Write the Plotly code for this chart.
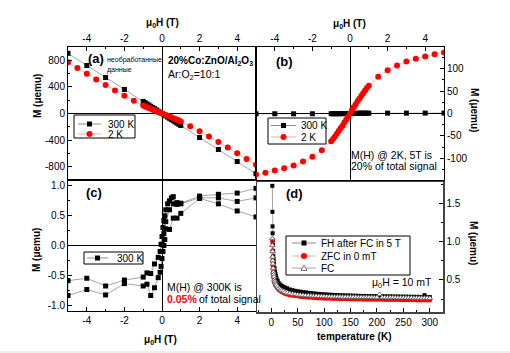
import plotly.graph_objects as go

W, H = 510, 353
FONT = "Arial, 'Liberation Sans', sans-serif"

# ---------------- data ----------------
# panel (a): raw M(H); panel (b): 300 K / paramagnetic part at 2 K
a_H_300K = [-5, -4, -3, -2, -1, -0.9, -0.8, -0.7, -0.6, -0.5, -0.4, -0.3, -0.2, -0.1, 0,
            0.1, 0.2, 0.3, 0.4, 0.5, 0.6, 0.7, 0.8, 0.9, 1, 2, 3, 4, 5]
a_M_300K = [905, 722, 541, 362, 181, 163, 145, 127, 109, 91, 72, 54, 36, 18, 0,
            -18, -36, -54, -72, -91, -109, -127, -145, -163, -181, -362, -541, -722, -905]
a_H_2K = [-5, -4.5, -4, -3.5, -3, -2.5, -2, -1.5, -1, -0.9, -0.8, -0.7, -0.6, -0.5, -0.4,
          -0.3, -0.2, -0.1, 0, 0.1, 0.2, 0.3, 0.4, 0.5, 0.6, 0.7, 0.8, 0.9, 1, 1.5,
          2, 2.5, 3, 3.5, 4, 4.5, 5]
a_M_2K = [769, 683, 597, 512, 427, 346, 266, 190, 119, 106, 94, 82, 70, 58, 45,
          34, 22, 11, 0, -11, -22, -34, -45, -58, -70, -82, -94, -106, -119, -190,
          -266, -346, -427, -512, -597, -683, -769]
b_M_300K = [-0.6, -0.6, -0.7, -0.6, -0.5, -0.5, -0.5, -0.5, -0.5, -0.4, -0.3, -0.3, -0.2, -0.1, 0.1,
            0.2, 0.3, 0.4, 0.5, 0.6, 0.7, 0.7, 0.7, 0.7, 0.7, 0.8, 0.8, 0.9, 0.9]
b_M_2K = [-136, -132, -127, -122, -116, -107, -96, -82, -62, -57, -51, -45, -39, -33, -27,
          -20, -14, -7, 0, 7, 14, 20, 27, 33, 39, 45, 51, 57, 62, 82,
          96, 107, 116, 122, 127, 132, 136]

# panel (c): 300 K loop (initial, descending, ascending)
c_H = [0, 0.1, 0.2, 0.4, 0.6, 0.8, 1, 2, 3, 4, 5,
       5, 4, 3, 2, 1, 0.8, 0.6, 0.5, 0.4, 0.3, 0.2, 0.15, 0.1, 0.05, 0, -0.05, -0.1, -0.2,
       -0.4, -0.6, -0.8, -1, -2, -3, -4, -5,
       -5, -4, -3, -2, -1, -0.8, -0.6, -0.4, -0.2, -0.1, -0.05, 0, 0.05, 0.1, 0.15, 0.2,
       0.4, 0.6, 0.8, 1, 2, 3, 4, 5]
c_M = [0.02, 0.2, 0.4, 0.6, 0.7, 0.72, 0.7, 0.8, 0.8, 0.74, 0.8,
       0.96, 0.88, 0.86, 0.83, 0.71, 0.69, 0.82, 0.8, 0.75, 0.7, 0.6, 0.5, 0.42, 0.3, 0.15, 0.02, -0.1, -0.2,
       -0.31, -0.47, -0.46, -0.53, -0.58, -0.68, -0.55, -0.59,
       -0.84, -0.74, -0.83, -0.64, -0.68, -0.65, -0.84, -0.71, -0.54, -0.45, -0.35, -0.22, -0.1, 0.0, 0.1, 0.28,
       0.27, 0.46, 0.46, 0.54, 0.79, 0.7, 0.58, 0.48]

# panel (d): M(T)
d_T = [2, 2.2, 2.4, 2.6, 2.8, 3, 3.5, 4, 4.5, 5, 6, 7, 8, 9, 10, 12, 14, 16, 18, 20, 23, 26,
       30, 35, 40, 45, 50, 55, 60, 65, 70, 75,
       80, 85, 90, 95, 100, 105, 110, 115, 120, 125,
       130, 135, 140, 145, 150, 155, 160, 165, 170, 175,
       180, 185, 190, 195, 200, 205, 210, 215, 220, 225,
       230, 235, 240, 245, 250, 255, 260, 265, 270, 275,
       280, 285, 290, 295, 300]
d_FH = [1.73, 1.39, 1.20, 1.11, 1.02, 0.96, 0.88, 0.81, 0.76, 0.72, 0.66, 0.61, 0.58, 0.55, 0.52,
        0.49, 0.46, 0.44, 0.43, 0.42, 0.41, 0.40,
        0.39, 0.375, 0.366, 0.357, 0.350, 0.346, 0.340, 0.337, 0.331, 0.328,
        0.322, 0.320, 0.316, 0.313, 0.310, 0.309, 0.306, 0.305, 0.302, 0.301,
        0.299, 0.298, 0.296, 0.296, 0.295, 0.293, 0.293, 0.291, 0.290, 0.290,
        0.288, 0.288, 0.287, 0.286, 0.286, 0.285, 0.285, 0.284, 0.284, 0.283,
        0.283, 0.282, 0.282, 0.281, 0.281, 0.280, 0.280, 0.279, 0.279, 0.278,
        0.278, 0.277, 0.300, 0.277, 0.276]
d_ZFC = [1.00, 0.88, 0.80, 0.74, 0.69, 0.65, 0.60, 0.56, 0.53, 0.50, 0.47, 0.45, 0.43, 0.42, 0.41,
         0.39, 0.37, 0.36, 0.35, 0.34, 0.33, 0.32,
         0.31, 0.30, 0.295, 0.29, 0.285, 0.28, 0.276, 0.273, 0.270, 0.268,
         0.265, 0.263, 0.261, 0.259, 0.257, 0.256, 0.255, 0.254, 0.253, 0.252,
         0.251, 0.250, 0.250, 0.249, 0.248, 0.248, 0.247, 0.246, 0.246, 0.245,
         0.245, 0.244, 0.244, 0.243, 0.243, 0.242, 0.242, 0.241, 0.241, 0.240,
         0.240, 0.239, 0.239, 0.238, 0.238, 0.237, 0.237, 0.236, 0.236, 0.235,
         0.235, 0.234, 0.234, 0.233, 0.233]
d_FC = [1.04, 0.95, 0.87, 0.80, 0.75, 0.71, 0.65, 0.60, 0.57, 0.54, 0.50, 0.48, 0.46, 0.44, 0.43,
        0.41, 0.39, 0.38, 0.37, 0.36, 0.35, 0.34,
        0.33, 0.322, 0.316, 0.311, 0.306, 0.302, 0.299, 0.296, 0.294, 0.292,
        0.290, 0.288, 0.286, 0.285, 0.283, 0.282, 0.281, 0.280, 0.279, 0.279,
        0.278, 0.277, 0.277, 0.276, 0.276, 0.275, 0.275, 0.274, 0.274, 0.273,
        0.273, 0.272, 0.272, 0.271, 0.271, 0.310, 0.270, 0.270, 0.269, 0.269,
        0.268, 0.268, 0.267, 0.267, 0.266, 0.266, 0.265, 0.265, 0.264, 0.264,
        0.263, 0.263, 0.262, 0.262, 0.261]

H_ticks = [-4, -2, 0, 2, 4]
H_ticktext = ["-4", "-2", "0", "2", "4"]
a_yticks = [-800, -400, 0, 400, 800]
a_yticktext = ["-800", "-400", "0", "400", "800"]
b_yticks = [-100, -50, 0, 50, 100]
b_yticktext = ["-100", "-50", "0", "50", "100"]
c_yticks = [-1.0, -0.5, 0.0, 0.5, 1.0]
c_yticktext = ["-1.0", "-0.5", "0.0", "0.5", "1.0"]
d_xticks = [0, 50, 100, 150, 200, 250, 300]
d_yticks = [0.5, 1.0, 1.5]
d_yticktext = ["0.5", "1.0", "1.5"]

# ---------------- figure ----------------
fig = go.Figure()

BLK_LINE = dict(color="rgba(0,0,0,0.45)", width=0.8)
RED_LINE = dict(color="rgba(255,0,0,0.35)", width=0.8)
SQ = dict(symbol="square", size=5, color="black")
CI = dict(symbol="circle", size=6, color="red")

fig.add_trace(go.Scatter(x=a_H_300K, y=a_M_300K, mode="lines+markers", line=BLK_LINE, marker=SQ,
                         xaxis="x", yaxis="y", name="300 K", showlegend=False))
fig.add_trace(go.Scatter(x=a_H_2K, y=a_M_2K, mode="lines+markers", line=RED_LINE, marker=CI,
                         xaxis="x", yaxis="y", name="2 K", showlegend=False))
fig.add_trace(go.Scatter(x=a_H_300K, y=b_M_300K, mode="lines+markers", line=BLK_LINE, marker=SQ,
                         xaxis="x2", yaxis="y2", name="300 K", showlegend=False))
fig.add_trace(go.Scatter(x=a_H_2K, y=b_M_2K, mode="lines+markers", line=RED_LINE, marker=CI,
                         xaxis="x2", yaxis="y2", name="2 K", showlegend=False))
fig.add_trace(go.Scatter(x=c_H, y=c_M, mode="lines+markers", line=BLK_LINE, marker=SQ,
                         xaxis="x3", yaxis="y3", name="300 K", showlegend=False))
fig.add_trace(go.Scatter(x=d_T, y=d_FH, mode="lines+markers", line=BLK_LINE,
                         marker=dict(symbol="square", size=4, color="black"),
                         xaxis="x4", yaxis="y4", name="FH after FC in 5 T", showlegend=False))
fig.add_trace(go.Scatter(x=d_T, y=d_ZFC, mode="lines+markers", line=RED_LINE,
                         marker=dict(symbol="circle", size=4.5, color="red"),
                         xaxis="x4", yaxis="y4", name="ZFC in 0 mT", showlegend=False))
fig.add_trace(go.Scatter(x=d_T, y=d_FC, mode="lines+markers", line=dict(color="rgba(0,0,0,0.35)", width=0.8),
                         marker=dict(symbol="triangle-up", size=5, color="white",
                                     line=dict(color="#555", width=0.8)),
                         xaxis="x4", yaxis="y4", name="FC", showlegend=False))


def base_axis(**kw):
    d = dict(showline=True, linecolor="black", linewidth=1, mirror=True, showgrid=False,
             ticks="inside", ticklen=4, tickwidth=1, tickcolor="black",
             tickfont=dict(size=10, color="black", family=FONT),
             zeroline=True, zerolinecolor="black", zerolinewidth=1, fixedrange=True)
    d.update(kw)
    return d


xa = [68 / W, 256 / W]
xb = [256 / W, 444 / W]
ytop = [1 - 180 / H, 1 - 47 / H]
ybot = [1 - 311 / H, 1 - 180 / H]
xd = [257 / W, 443 / W]
yd = [1 - 312 / H, 1 - 182 / H]

fig.update_layout(
    width=W, height=H, margin=dict(l=0, r=0, t=0, b=0),
    paper_bgcolor="white", plot_bgcolor="white",
    font=dict(family=FONT, color="black", size=10),
    showlegend=False,
    xaxis=base_axis(domain=xa, anchor="y", side="top", range=[-5, 5],
                    tickvals=H_ticks, ticktext=H_ticktext,
                    minor=dict(ticks="inside", ticklen=2, dtick=1, tickcolor="black")),
    yaxis=base_axis(domain=ytop, anchor="x", range=[-1000, 1000],
                    tickvals=a_yticks, ticktext=a_yticktext,
                    minor=dict(ticks="inside", ticklen=2, dtick=200, tickcolor="black")),
    xaxis2=base_axis(domain=xb, anchor="y2", side="top", range=[-5, 5],
                     tickvals=H_ticks, ticktext=H_ticktext,
                     minor=dict(ticks="inside", ticklen=2, dtick=1, tickcolor="black")),
    yaxis2=base_axis(domain=ytop, anchor="x2", side="right", range=[-148, 148],
                     tickvals=b_yticks, ticktext=b_yticktext,
                     minor=dict(ticks="inside", ticklen=2, dtick=25, tickcolor="black")),
    xaxis3=base_axis(domain=xa, anchor="y3", side="bottom", range=[-5, 5],
                     tickvals=H_ticks, ticktext=H_ticktext,
                     minor=dict(ticks="inside", ticklen=2, dtick=1, tickcolor="black")),
    yaxis3=base_axis(domain=ybot, anchor="x3", range=[-1.1, 1.1],
                     tickvals=c_yticks, ticktext=c_yticktext,
                     minor=dict(ticks="inside", ticklen=2, dtick=0.25, tickcolor="black")),
    xaxis4=base_axis(domain=xd, anchor="y4", side="bottom", range=[-27, 325],
                     tickvals=d_xticks, zeroline=False, linecolor="#444", linewidth=1.5,
                     minor=dict(ticks="inside", ticklen=2, dtick=25, tickcolor="black")),
    yaxis4=base_axis(domain=yd, anchor="x4", side="right", range=[0.08, 1.78],
                     tickvals=d_yticks, ticktext=d_yticktext, zeroline=False,
                     linecolor="#444", linewidth=1.5,
                     minor=dict(ticks="inside", ticklen=2, dtick=0.25, tickcolor="black")),
)


def px(x):
    return x / W


def py(y):
    return 1 - y / H


annotations = []


def text(x, y, s, size=10, anchor="left", angle=0, color="black", bold=False):
    annotations.append(dict(x=px(x), y=py(y), xref="paper", yref="paper", text=s,
                            showarrow=False, xanchor=anchor, yanchor="middle",
                            textangle=angle,
                            font=dict(size=size, color=color, family=FONT,
                                      weight="bold" if bold else "normal")))


# axis titles
text(162, 23, "μ<sub>0</sub>H (T)", size=10, anchor="center", bold=True)
text(349, 24, "μ<sub>0</sub>H (T)", size=10, anchor="center", bold=True)
text(160, 340, "μ<sub>0</sub>H (T)", size=10, anchor="center", bold=True)
text(354, 336, "temperature (K)", size=10, anchor="center", bold=True)
text(37, 96, "M (μemu)", size=10, anchor="center", angle=-90, bold=True)
text(37, 250, "M (μemu)", size=10, anchor="center", angle=-90, bold=True)
text(474, 110, "M (μemu)", size=10, anchor="center", angle=90, bold=True)
text(474, 243, "M (μemu)", size=10, anchor="center", angle=90, bold=True)

# panel labels & notes
text(86, 59, "(a)", size=13, bold=True)
text(105, 60, "необработанные", size=7)
text(105, 70, "данные", size=7)
text(166, 61, "20%Co:ZnO/Al<sub>2</sub>O<sub>3</sub>", size=10, bold=True)
text(166, 75, "Ar:O<sub>2</sub>=10:1", size=10.5)
text(274, 61, "(b)", size=13, bold=True)
text(349, 155, "M(H) @ 2K, 5T is", size=10.5)
text(349, 166, "20% of total signal", size=10.5)
text(84, 192, "(c)", size=13, bold=True)
text(165, 287, "M(H) @ 300K is", size=10.5)
text(165, 299, "0.05%", size=10.5, color="red", bold=True)
text(197, 299, "of total signal", size=10.5)
text(284, 193, "(d)", size=13, bold=True)
text(370, 283, "μ<sub>0</sub>H = 10 mT", size=10.5)

shapes = []

# faint strip along the bottom edge of the picture
shapes.append(dict(type="rect", xref="paper", yref="paper", x0=0, x1=1, y0=0, y1=py(351),
                   fillcolor="#eeeeee", line=dict(width=0), layer="below"))


def box(x0, y0, x1, y1):
    shapes.append(dict(type="rect", xref="paper", yref="paper", x0=px(x0), x1=px(x1),
                       y0=py(y1), y1=py(y0), line=dict(color="black", width=1),
                       fillcolor="white", layer="above"))


def key(x0, x1, y, kind, label, tx):
    lc = {"sq": "rgba(0,0,0,0.45)", "ci": "rgba(255,0,0,0.35)", "tr": "rgba(0,0,0,0.35)"}[kind]
    shapes.append(dict(type="line", xref="paper", yref="paper", x0=px(x0), x1=px(x1),
                       y0=py(y), y1=py(y), line=dict(color=lc, width=1), layer="above"))
    cx = (x0 + x1) / 2
    if kind == "sq":
        shapes.append(dict(type="rect", xref="paper", yref="paper", x0=px(cx - 2.5), x1=px(cx + 2.5),
                           y0=py(y + 2.5), y1=py(y - 2.5), fillcolor="black",
                           line=dict(width=0), layer="above"))
    elif kind == "ci":
        shapes.append(dict(type="circle", xref="paper", yref="paper", x0=px(cx - 3), x1=px(cx + 3),
                           y0=py(y + 3), y1=py(y - 3), fillcolor="red",
                           line=dict(width=0), layer="above"))
    else:
        path = "M {:.5f},{:.5f} L {:.5f},{:.5f} L {:.5f},{:.5f} Z".format(
            px(cx - 3), py(y + 2.5), px(cx + 3), py(y + 2.5), px(cx), py(y - 3))
        shapes.append(dict(type="path", xref="paper", yref="paper", path=path, fillcolor="white",
                           line=dict(color="#555", width=0.8), layer="above"))
    text(tx, y, label, size=10)


# legend (a)
box(74, 115, 135, 138)
key(78, 101, 124, "sq", "300 K", 106)
key(78, 101, 134, "ci", "2 K", 106)
# legend (b)
box(268, 118, 326, 144)
key(271, 296, 125.5, "sq", "300 K", 299)
key(271, 296, 137, "ci", "2 K", 299)
# legend (c)
box(84, 252, 143, 264)
key(87, 108, 258, "sq", "300 K", 115)
# legend (d)
box(286, 236, 410, 275)
key(292, 316, 243, "sq", "FH after FC in 5 T", 319)
key(292, 316, 256, "ci", "ZFC in 0 mT", 319)
key(292, 316, 268, "tr", "FC", 319)

fig.update_layout(annotations=annotations, shapes=shapes)
fig.write_html("out.html", config={"displayModeBar": False, "staticPlot": True},
               post_script="document.body.style.margin='0';document.body.style.padding='0';")
